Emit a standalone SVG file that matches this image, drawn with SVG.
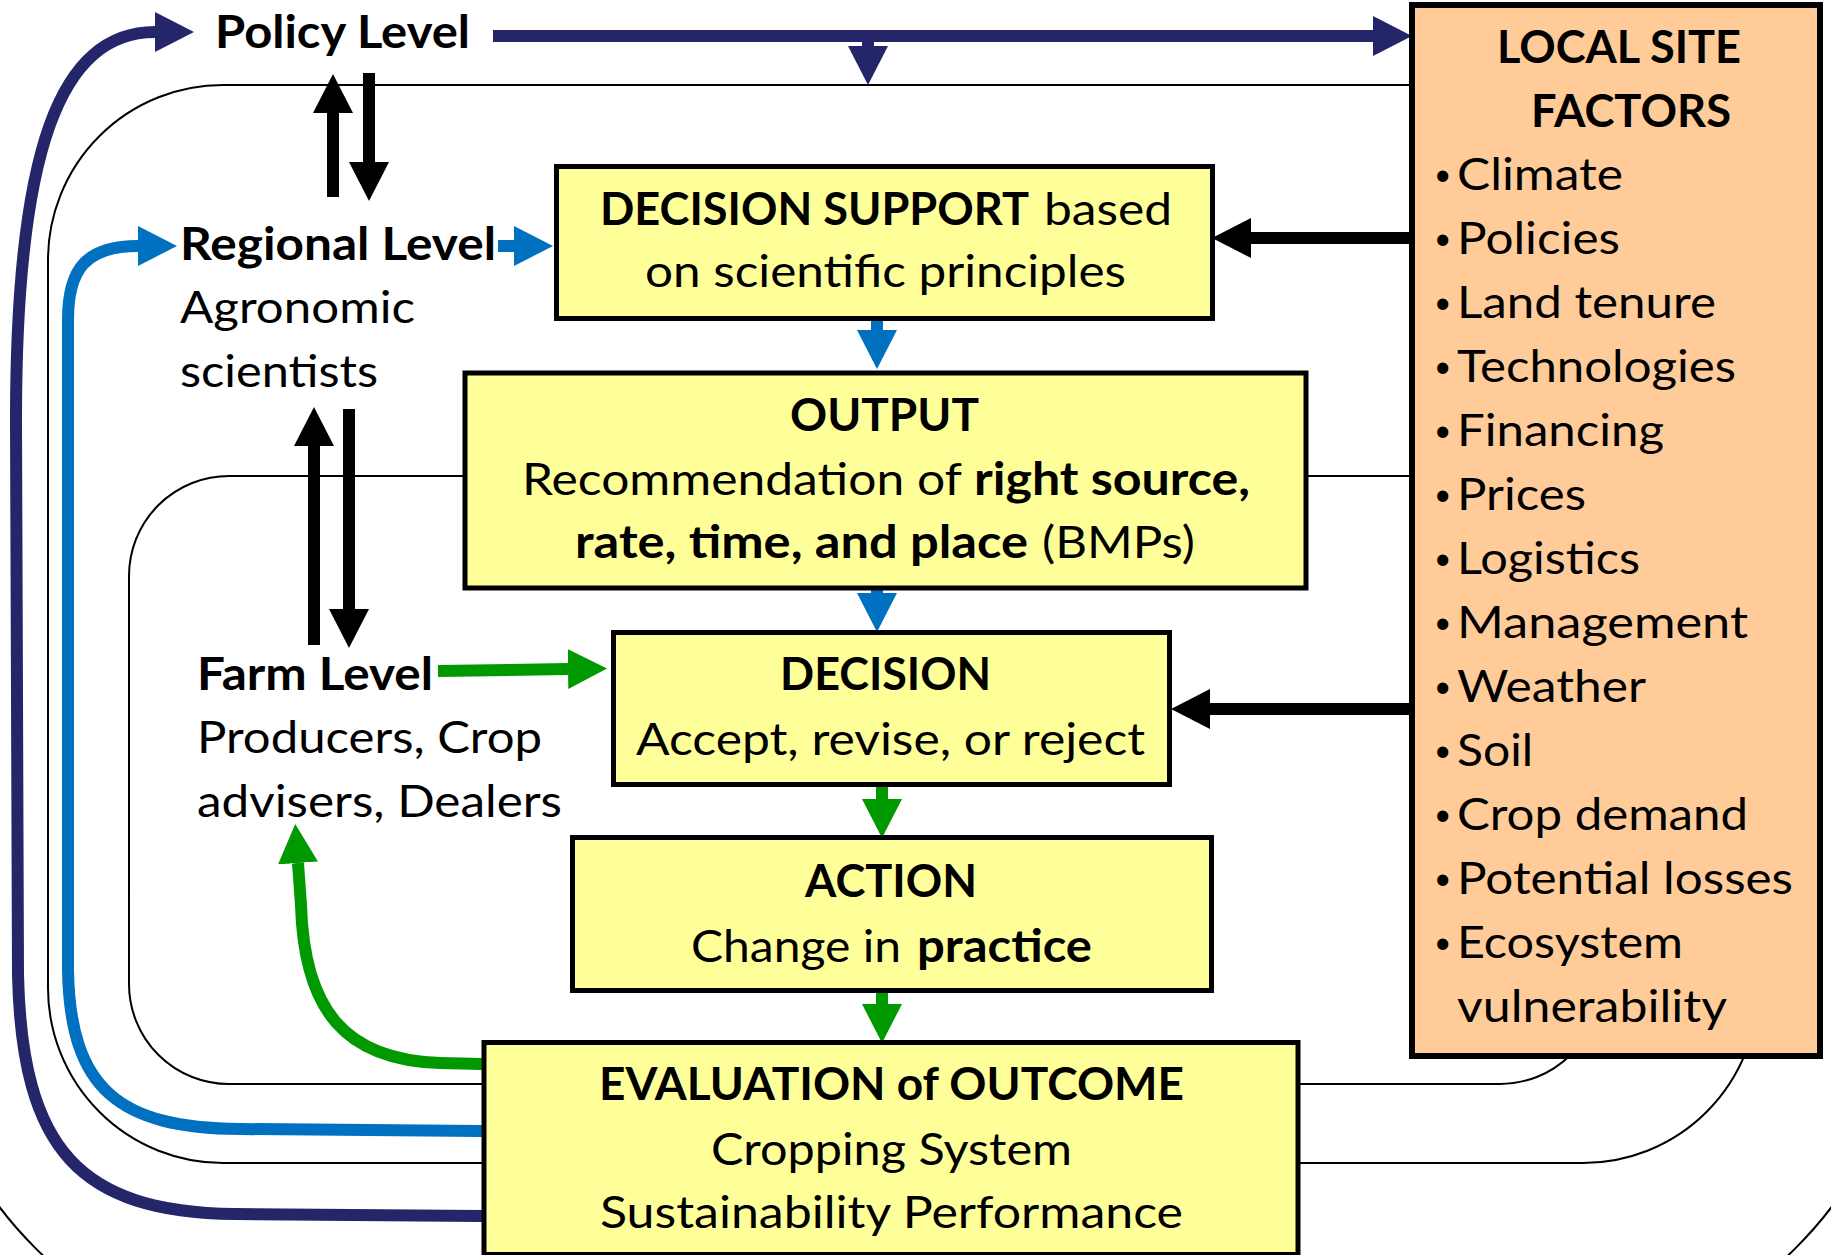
<svg xmlns="http://www.w3.org/2000/svg" width="1831" height="1255" viewBox="0 0 1831 1255">
<style>
.loop{fill:none;stroke:#000;stroke-width:2}
.box{fill:#FFFF99;stroke:#000;stroke-width:5}
.site{fill:#FFCC99;stroke:#000;stroke-width:6}
.c{fill:none;stroke-width:12}
.navy{stroke:#25256A}
.blue{stroke:#0070C0}
.green{stroke:#009900}
.black{stroke:#000}
text{font-family:Lato,"Open Sans","Liberation Sans",sans-serif;font-size:45px;fill:#000}
.b{font-weight:bold}
.bul{font-size:30px}
</style>
<defs>
<marker id="hNavy" markerUnits="userSpaceOnUse" viewBox="0 0 40 40" markerWidth="40" markerHeight="40" refX="0" refY="20" orient="auto"><path d="M0,0 L39,20 L0,40 z" fill="#25256A"/></marker>
<marker id="hBlue" markerUnits="userSpaceOnUse" viewBox="0 0 40 40" markerWidth="40" markerHeight="40" refX="0" refY="20" orient="auto"><path d="M0,0 L39,20 L0,40 z" fill="#0070C0"/></marker>
<marker id="hGreen" markerUnits="userSpaceOnUse" viewBox="0 0 40 40" markerWidth="40" markerHeight="40" refX="0" refY="20" orient="auto"><path d="M0,0 L39,20 L0,40 z" fill="#009900"/></marker>
<marker id="hBlack" markerUnits="userSpaceOnUse" viewBox="0 0 40 40" markerWidth="40" markerHeight="40" refX="0" refY="20" orient="auto"><path d="M0,0 L39,20 L0,40 z" fill="#000"/></marker>
</defs>
<rect width="1831" height="1255" fill="#fff"/>
<g id="loops">
<rect class="loop" x="-82" y="-200" width="1995" height="1565" rx="400"/>
<rect class="loop" x="48" y="85" width="1710" height="1078" rx="175"/>
<rect class="loop" x="129" y="476" width="1471" height="608" rx="100"/>
</g>
<g id="connectors">
<path class="c navy" d="M493 36 L1373 36" marker-end="url(#hNavy)"/>
<path class="c navy" d="M868 40 L868 46" marker-end="url(#hNavy)"/>
<path class="c navy" d="M482 1216 L235 1214 C80 1212 22 1150 18 975 L16 420 C16 150 60 32 155 32" marker-end="url(#hNavy)"/>
<path class="c blue" d="M482 1131 L240 1129 C120 1128 70 1090 68 970 L68 320 C68 270 85 246 138 246" marker-end="url(#hBlue)"/>
<path class="c green" d="M482 1064 L440 1063 C345 1060 304 1010 301 905 L298 863" marker-end="url(#hGreen)"/>
<path class="c black" d="M333 197 L333 113" marker-end="url(#hBlack)"/>
<path class="c black" d="M369 73 L369 162" marker-end="url(#hBlack)"/>
<path class="c black" d="M314 645 L314 446" marker-end="url(#hBlack)"/>
<path class="c black" d="M349 409 L349 609" marker-end="url(#hBlack)"/>
<path class="c blue" d="M498 246 L514 246" marker-end="url(#hBlue)"/>
<path class="c blue" d="M877 318 L877 330" marker-end="url(#hBlue)"/>
<path class="c blue" d="M877 588 L877 593" marker-end="url(#hBlue)"/>
<path class="c green" d="M438 671 L568 669" marker-end="url(#hGreen)"/>
<path class="c green" d="M882 785 L882 799" marker-end="url(#hGreen)"/>
<path class="c green" d="M882 992 L882 1004" marker-end="url(#hGreen)"/>
<path class="c black" d="M1410 238 L1251 238" marker-end="url(#hBlack)"/>
<path class="c black" d="M1410 709 L1210 709" marker-end="url(#hBlack)"/>
</g>
<g id="policy">
<text class="b" x="215" y="48" textLength="255" lengthAdjust="spacingAndGlyphs">Policy Level</text>
</g>
<g id="regional">
<text class="b" x="180" y="260" textLength="316" lengthAdjust="spacingAndGlyphs">Regional Level</text>
<text x="180" y="323" textLength="235" lengthAdjust="spacingAndGlyphs">Agronomic</text>
<text x="180" y="387" textLength="198" lengthAdjust="spacingAndGlyphs">scientists</text>
</g>
<g id="farm">
<text class="b" x="197" y="690" textLength="236" lengthAdjust="spacingAndGlyphs">Farm Level</text>
<text x="197" y="753" textLength="345" lengthAdjust="spacingAndGlyphs">Producers, Crop</text>
<text x="197" y="817" textLength="365" lengthAdjust="spacingAndGlyphs">advisers, Dealers</text>
</g>
<g id="decision-support">
<rect class="box" x="556.5" y="166.5" width="656" height="152"/>
<text class="b" x="600" y="225" textLength="429" lengthAdjust="spacingAndGlyphs">DECISION SUPPORT</text>
<text x="1044" y="225" textLength="128" lengthAdjust="spacingAndGlyphs">based</text>
<text x="645" y="287" textLength="481" lengthAdjust="spacingAndGlyphs">on scientific principles</text>
</g>
<g id="output">
<rect class="box" x="465" y="373" width="841" height="215"/>
<text class="b" x="790" y="431" textLength="189" lengthAdjust="spacingAndGlyphs">OUTPUT</text>
<text x="522" y="495" textLength="440" lengthAdjust="spacingAndGlyphs">Recommendation of</text>
<text class="b" x="974" y="495" textLength="276" lengthAdjust="spacingAndGlyphs">right source,</text>
<text class="b" x="575" y="558" textLength="453" lengthAdjust="spacingAndGlyphs">rate, time, and place</text>
<text x="1042" y="558" textLength="153" lengthAdjust="spacingAndGlyphs">(BMPs)</text>
</g>
<g id="decision">
<rect class="box" x="613.5" y="632.5" width="556" height="152"/>
<text class="b" x="780" y="690" textLength="211" lengthAdjust="spacingAndGlyphs">DECISION</text>
<text x="636" y="755" textLength="509" lengthAdjust="spacingAndGlyphs">Accept, revise, or reject</text>
</g>
<g id="action">
<rect class="box" x="572.5" y="837.5" width="639" height="153"/>
<text class="b" x="805" y="897" textLength="172" lengthAdjust="spacingAndGlyphs">ACTION</text>
<text x="691" y="962" textLength="210" lengthAdjust="spacingAndGlyphs">Change in</text>
<text class="b" x="917" y="962" textLength="175" lengthAdjust="spacingAndGlyphs">practice</text>
</g>
<g id="evaluation">
<rect class="box" x="484" y="1042.5" width="814" height="212"/>
<text class="b" x="599" y="1100" textLength="585" lengthAdjust="spacingAndGlyphs">EVALUATION of OUTCOME</text>
<text x="711" y="1165" textLength="361" lengthAdjust="spacingAndGlyphs">Cropping System</text>
<text x="600" y="1228" textLength="583" lengthAdjust="spacingAndGlyphs">Sustainability Performance</text>
</g>
<g id="local-site-factors">
<rect class="site" x="1412" y="5" width="408" height="1051"/>
<text class="b" x="1497" y="63" textLength="244" lengthAdjust="spacingAndGlyphs">LOCAL SITE</text>
<text class="b" x="1531" y="127" textLength="200" lengthAdjust="spacingAndGlyphs">FACTORS</text>
<g id="bullets">
<text class="bul" x="1434" y="185">•</text>
<text class="bul" x="1434" y="249">•</text>
<text class="bul" x="1434" y="313">•</text>
<text class="bul" x="1434" y="377">•</text>
<text class="bul" x="1434" y="441">•</text>
<text class="bul" x="1434" y="505">•</text>
<text class="bul" x="1434" y="569">•</text>
<text class="bul" x="1434" y="633">•</text>
<text class="bul" x="1434" y="697">•</text>
<text class="bul" x="1434" y="761">•</text>
<text class="bul" x="1434" y="825">•</text>
<text class="bul" x="1434" y="889">•</text>
<text class="bul" x="1434" y="953">•</text>
</g>
<text x="1457" y="190" textLength="166" lengthAdjust="spacingAndGlyphs">Climate</text>
<text x="1457" y="254" textLength="163" lengthAdjust="spacingAndGlyphs">Policies</text>
<text x="1457" y="318" textLength="259" lengthAdjust="spacingAndGlyphs">Land tenure</text>
<text x="1457" y="382" textLength="279" lengthAdjust="spacingAndGlyphs">Technologies</text>
<text x="1457" y="446" textLength="207" lengthAdjust="spacingAndGlyphs">Financing</text>
<text x="1457" y="510" textLength="129" lengthAdjust="spacingAndGlyphs">Prices</text>
<text x="1457" y="574" textLength="183" lengthAdjust="spacingAndGlyphs">Logistics</text>
<text x="1457" y="638" textLength="291" lengthAdjust="spacingAndGlyphs">Management</text>
<text x="1457" y="702" textLength="189" lengthAdjust="spacingAndGlyphs">Weather</text>
<text x="1457" y="766" textLength="76" lengthAdjust="spacingAndGlyphs">Soil</text>
<text x="1457" y="830" textLength="291" lengthAdjust="spacingAndGlyphs">Crop demand</text>
<text x="1457" y="894" textLength="336" lengthAdjust="spacingAndGlyphs">Potential losses</text>
<text x="1457" y="958" textLength="226" lengthAdjust="spacingAndGlyphs">Ecosystem</text>
<text x="1457" y="1022" textLength="270" lengthAdjust="spacingAndGlyphs">vulnerability</text>
</g>
</svg>
